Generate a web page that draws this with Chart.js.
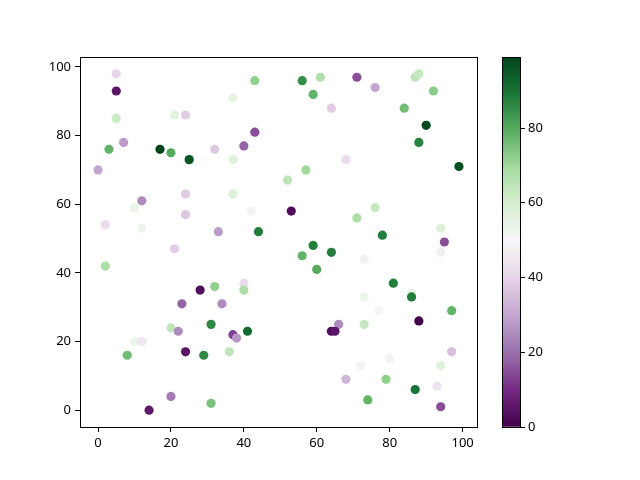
<!DOCTYPE html>
<html>
<head>
<meta charset="utf-8">
<script src="https://cdn.jsdelivr.net/npm/chart.js@4"></script>
<style>
  html, body { margin: 0; padding: 0; background: #fff; }
  #wrap { position: relative; width: 640px; height: 480px; }
  #wrap canvas { position: absolute; left: 0; top: 0; }
</style>
</head>
<body>
<div id="wrap">
  <canvas id="scatter" width="640" height="480"></canvas>
  <canvas id="cbar" width="640" height="480"></canvas>
</div>
<script>
const xs = [5, 5, 43, 37, 5, 21, 24, 43, 40, 7, 3, 17, 20, 25, 32, 37, 0, 24, 37, 12,
  10, 42, 24, 2, 12, 33, 44, 56, 61, 71, 76, 87, 88, 92, 59, 64, 84, 90, 88, 68,
  99, 57, 52, 53, 76, 71, 94, 78, 95, 21, 2, 28, 32, 40, 40, 23, 34, 31, 20, 22,
  37, 38, 41, 10, 12, 24, 29, 36, 8, 20, 31, 14, 59, 56, 64, 60, 73, 94, 81, 86,
  86, 73, 77, 97, 88, 66, 64, 65, 73, 97, 80, 72, 94, 68, 79, 87, 93, 74, 94];
const ys = [98, 93, 96, 91, 85, 86, 86, 81, 77, 78, 76, 76, 75, 73, 76, 73, 70, 63, 63, 61,
  59, 58, 57, 54, 53, 52, 52, 96, 97, 97, 94, 97, 98, 93, 92, 88, 88, 83, 78, 73,
  71, 70, 67, 58, 59, 56, 53, 51, 49, 47, 42, 35, 36, 37, 35, 31, 31, 25, 24, 23,
  22, 21, 23, 20, 20, 17, 16, 17, 16, 4, 2, 0, 48, 45, 46, 41, 44, 46, 37, 34,
  33, 33, 29, 29, 26, 25, 23, 23, 25, 17, 15, 13, 13, 9, 9, 6, 7, 3, 1];
const cs = [40, 5, 72, 55, 62, 56, 38, 15, 18, 28, 78, 99, 80, 96, 37, 57, 30, 38, 58, 25,
  53, 52, 37, 42, 52, 28, 88, 85, 67, 15, 30, 65, 63, 73, 78, 38, 76, 98, 87, 42,
  97, 70, 65, 3, 63, 68, 58, 88, 15, 38, 68, 3, 72, 42, 68, 18, 25, 86, 64, 25,
  13, 27, 92, 53, 45, 5, 86, 64, 76, 22, 75, 6, 88, 78, 88, 80, 52, 47, 88, 55,
  88, 53, 50, 78, 0, 25, 3, 5, 63, 35, 48, 51, 57, 33, 72, 90, 44, 78, 15];
const xTicks = [0, 20, 40, 60, 80, 100];
const yTicks = [0, 20, 40, 60, 80, 100];
const cTicks = [0, 20, 40, 60, 80];

// matplotlib PRGn
const prgn = ['#40004b', '#762a83', '#9970ab', '#c2a5cf', '#e7d4e8', '#f7f7f7',
  '#d9f0d3', '#a6dba0', '#5aae61', '#1b7837', '#00441b'];

const cMin = Math.min(...cs);
const cMax = Math.max(...cs);

function hexRgb(h) {
  return [1, 3, 5].map(i => parseInt(h.substr(i, 2), 16));
}

function cmap(v) {
  let t = (v - cMin) / (cMax - cMin);
  t = Math.max(0, Math.min(1, t)) * (prgn.length - 1);
  const i = Math.min(Math.floor(t), prgn.length - 2);
  const f = t - i;
  const a = hexRgb(prgn[i]), b = hexRgb(prgn[i + 1]);
  const c = a.map((va, k) => Math.round(va + (b[k] - va) * f));
  return `rgb(${c[0]},${c[1]},${c[2]})`;
}

const font = { family: "'Noto Sans', 'DejaVu Sans', sans-serif", size: 13 };
Chart.defaults.font = font;
Chart.defaults.color = "#000";

const frame = {
  id: "frame",
  afterDraw(chart) {
    const a = chart.chartArea, g = chart.ctx;
    g.save();
    g.strokeStyle = "#000";
    g.lineWidth = 1;
    g.strokeRect(a.left + 0.5, a.top + 0.5, a.right - a.left, a.bottom - a.top);
    g.restore();
  }
};

const axisGrid = { drawOnChartArea: false, drawTicks: true, tickLength: 5, color: "#000" };

new Chart(document.getElementById("scatter"), {
  type: "scatter",
  data: {
    datasets: [{
      data: xs.map((x, i) => ({ x: x, y: ys[i] })),
      pointBackgroundColor: cs.map(cmap),
      pointBorderWidth: 0,
      pointRadius: 4.6,
      pointHoverRadius: 4.6
    }]
  },
  options: {
    responsive: false,
    animation: false,
    events: [],
    layout: { padding: { left: 0, top: 57, right: 163, bottom: 0 } },
    plugins: { legend: { display: false }, tooltip: { enabled: false } },
    scales: {
      x: {
        type: "linear",
        min: -4.95,
        max: 103.95,
        afterBuildTicks: s => { s.ticks = xTicks.map(v => ({ value: v })); },
        afterFit: s => { s.height = 53; },
        ticks: { padding: 3, maxRotation: 0 },
        grid: axisGrid,
        border: { display: true, color: "#000" }
      },
      y: {
        type: "linear",
        min: -4.9,
        max: 102.9,
        afterBuildTicks: s => { s.ticks = yTicks.map(v => ({ value: v })); },
        afterFit: s => { s.width = 80; },
        ticks: { padding: 4 },
        grid: axisGrid,
        border: { display: true, color: "#000" }
      }
    }
  },
  plugins: [frame]
});

// colorbar: one floating bar filled with the colormap
new Chart(document.getElementById("cbar"), {
  type: "bar",
  data: {
    labels: [""],
    datasets: [{
      data: [[cMin, cMax]],
      barPercentage: 1,
      categoryPercentage: 1,
      borderWidth: 0,
      backgroundColor: ctx => {
        const a = ctx.chart.chartArea;
        if (!a) return prgn[5];
        const gr = ctx.chart.ctx.createLinearGradient(0, a.bottom, 0, a.top);
        prgn.forEach((c, i) => gr.addColorStop(i / (prgn.length - 1), c));
        return gr;
      }
    }]
  },
  options: {
    responsive: false,
    animation: false,
    events: [],
    layout: { padding: { left: 502, top: 57, right: 80, bottom: 53 } },
    plugins: { legend: { display: false }, tooltip: { enabled: false } },
    scales: {
      x: { display: false },
      y: {
        position: "right",
        min: cMin,
        max: cMax,
        afterBuildTicks: s => { s.ticks = cTicks.map(v => ({ value: v })); },
        afterFit: s => { s.width = 40; },
        ticks: { padding: 3 },
        grid: axisGrid,
        border: { display: true, color: "#000" }
      }
    }
  },
  plugins: [frame]
});
</script>
</body>
</html>
